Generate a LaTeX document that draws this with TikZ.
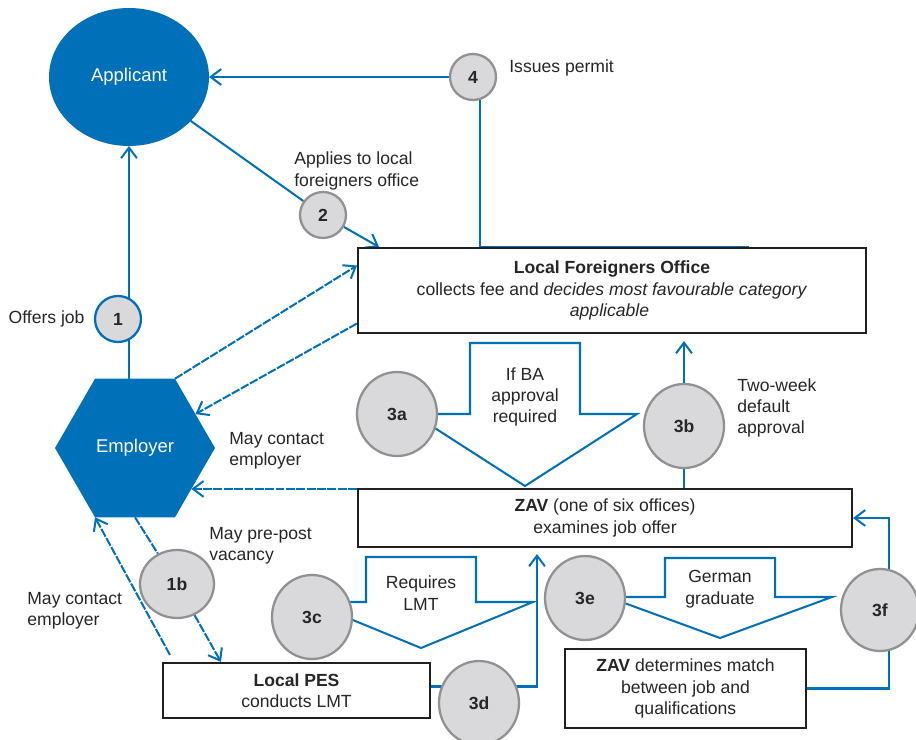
\documentclass[tikz,border=0pt]{standalone}
\usepackage{fontspec}
\setmainfont{Liberation Sans}
\usetikzlibrary{shapes.geometric,arrows.meta,positioning,calc}
\definecolor{bablue}{RGB}{0,112,184}
\definecolor{stepfill}{RGB}{217,217,220}
\definecolor{stepline}{RGB}{145,145,145}
\definecolor{boxline}{RGB}{35,31,32}
\definecolor{textgray}{RGB}{38,38,38}
\pgfdeclarelayer{bg}
\pgfsetlayers{bg,main}
\tikzset{
    actor-ellipse/.style = {ellipse, fill=bablue, text=white, minimum width=3.2cm, minimum height=2.76cm, inner sep=0pt, outer sep=0pt, font=\fontsize{10.5}{12}\selectfont},
    actor-hexagon/.style = {regular polygon, regular polygon sides=6, fill=bablue, text=white, minimum size=3.2cm, inner sep=0pt, outer sep=0pt, font=\fontsize{10.5}{12}\selectfont},
    office-box/.style = {draw=boxline, fill=white, line width=1.2pt, rectangle, align=center, inner sep=2pt, text=textgray, font=\fontsize{10}{12.2}\selectfont},
    step-circle/.style = {ellipse, draw=stepline, fill=stepfill, line width=1.3pt, inner sep=0pt, text=textgray, font=\bfseries\fontsize{10}{12}\selectfont},
    small-step/.style = {step-circle, minimum size=0.92cm},
    big-step/.style = {step-circle, minimum width=1.6cm, minimum height=1.68cm},
    note/.style = {align=left, inner sep=0pt, text=textgray, font=\fontsize{10}{12.2}\selectfont},
    flow/.style = {draw=bablue, line width=1.15pt},
    dashed-line/.style = {dash pattern=on 5pt off 0.9pt},
    decision-arrow/.style = {draw=bablue, fill=white, line width=1.15pt},
}
% outlined down arrow: centre x, top y, shoulder y, tip y
\newcommand{\decisionarrow}[4]{%
    \draw[decision-arrow] (#1-55,#2) -- (#1+55,#2) -- (#1+55,#3) -- (#1+112,#3)
        -- (#1,#4) -- (#1-112,#3) -- (#1-55,#3) -- cycle;}

\begin{document}
\begin{tikzpicture}[x=0.02cm, y=-0.02cm, >={Straight Barb[length=6pt,width=9pt]}]
\useasboundingbox (0,0) rectangle (916,740);

% actors
\node[actor-ellipse] (applicant) at (129,77) {Applicant};
\node[actor-hexagon] (employer) at (135,448) {Employer};

% offices
\node[office-box, minimum width=10.16cm, minimum height=1.7cm] (lfo) at (612,290.5)
    {\textbf{Local Foreigners Office}\\collects fee and \textit{decides most favourable category}\\\textit{applicable}\hspace*{0.1cm}};
\node[office-box, minimum width=9.88cm, minimum height=1.16cm] (zav) at (605,518)
    {\textbf{ZAV} (one of six offices)\\examines job offer};
\node[office-box, minimum width=5.34cm, minimum height=1.1cm] (pes) at (296.5,690.5)
    {\textbf{Local PES}\\conducts LMT};
\node[office-box, minimum width=4.82cm, minimum height=1.58cm] (match) at (685.5,688.5)
    {\textbf{ZAV} determines match\\between job and\\qualifications};

% decisions
\decisionarrow{525}{343}{414}{486}
\node[note, align=center] (ba-text) at (525,397) {If BA\\approval\\required};
\decisionarrow{421}{557}{602}{648}
\node[note, align=center] (lmt-text) at (421,593) {Requires\\LMT};
\decisionarrow{720}{558}{597}{638}
\node[note, align=center] (grad-text) at (720,589) {German\\graduate};

% steps
\node[small-step, draw=bablue] (s1) at (118,319) {1};
\node[small-step] (s2) at (323,215) {2};
\node[small-step] (s4) at (473,77) {4};
\node[step-circle, minimum width=1.48cm, minimum height=1.36cm] (s1b) at (177,584) {1b};
\node[big-step] (s3a) at (397,414) {3a};
\node[big-step] (s3b) at (684,426) {3b};
\node[big-step] (s3c) at (312,617) {3c};
\node[big-step] (s3d) at (479,703) {3d};
\node[big-step] (s3e) at (585,598) {3e};
\node[big-step, minimum width=1.56cm, minimum height=1.64cm] (s3f) at (880,610) {3f};

% notes
\node[note, left=0.18cm of s1] (offers) {Offers job};
\node[note, anchor=west] (applies) at (294,171) {Applies to local\\foreigners office};
\node[note, anchor=west] (issues) at (509,68) {Issues permit};
\node[note, anchor=west] (contact-up) at (229,451) {May contact\\employer};
\node[note, anchor=west] (twoweek) at (737,408) {Two-week\\default\\approval};
\node[note, anchor=west] (prepost) at (209,546) {May pre-post\\vacancy};
\node[note, anchor=west] (contact-low) at (27,611) {May contact\\employer};

\coordinate (lfo-end) at ($(lfo.north west)+(392,0)$);
\coordinate (c3f) at ($(zav.east)+(36,0)$);

\begin{pgfonlayer}{bg}
\draw[flow,->] (applicant.south |- employer.north) -- (applicant.south);
\draw[flow,->] (s4) -- (applicant);
\draw[flow] ($(s4)+(7,0)$) |- (lfo-end);
\draw[flow] (applicant) -- (s2);
\draw[flow,->] (s2) -- ($(lfo.north west)+(22,0)$);
\draw[flow,dashed-line,->] (employer.60) -- ($(lfo.west)+(0,-25)$);
\draw[flow,dashed-line,->] ($(lfo.west)+(0,33)$) -- (employer);
\draw[flow,dashed-line,->] (employer.-36 -| zav.west) -- (employer.-36);
\draw[flow,dashed-line] (employer.south) -- (s1b);
\draw[flow,dashed-line,->] (s1b) -- ($(pes.north west)+(59,0)$);
\draw[flow,dashed-line,->] ($(pes.north west)+(8,-7)$) -- (employer.240);
\draw[flow,->] (s3b.center |- zav.north) -- ($(s3b.center |- lfo.south)+(0,7)$);
\draw[flow,->] ($(pes.east)+(0,-4)$) -| ($(zav.south)+(-68,6)$);
\draw[flow,->] (match.east) -| (c3f) -- (zav.east);
\end{pgfonlayer}
\end{tikzpicture}
\end{document}
